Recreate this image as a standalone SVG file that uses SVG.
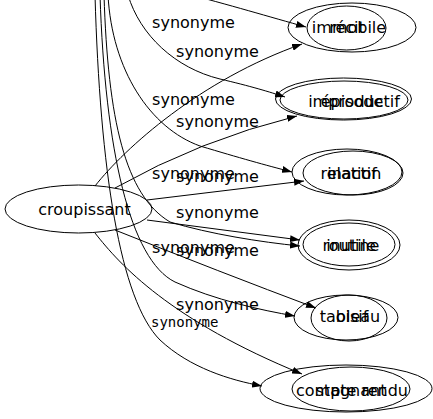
<svg xmlns="http://www.w3.org/2000/svg" width="433" height="419" viewBox="0 0 433 419">
<style>
.n ellipse{fill:none;stroke:#000;stroke-width:1}
.t{font-family:"DejaVu Sans",sans-serif;font-size:16px;fill:#000;text-anchor:middle}
.e path{fill:none;stroke:#000;stroke-width:1}
.l{font-family:"DejaVu Sans",sans-serif;font-size:16px;fill:#000;text-anchor:middle}
.m{font-family:"DejaVu Sans Mono",monospace;font-size:14px;fill:#000}
</style>
<defs>
<marker id="ah" viewBox="0 0 10 7" refX="10" refY="3.5" markerWidth="10" markerHeight="7" orient="auto" markerUnits="userSpaceOnUse"><path d="M0,0 L10,3.5 L0,7 z" fill="#000"/></marker>
</defs>
<rect width="433" height="419" fill="#fff"/>
<g class="e" id="edges">
<path marker-end="url(#ah)" d="M95,186 C125,148 200,80 302,44"/>
<path marker-end="url(#ah)" d="M115,188 Q200,140 297,116"/>
<path marker-end="url(#ah)" d="M147,200 L304,181"/>
<path marker-end="url(#ah)" d="M147,220 L300,240"/>
<path marker-end="url(#ah)" d="M115,230 Q220,272 316,308"/>
<path marker-end="url(#ah)" d="M95,233 C120,265 170,320 302,374"/>
<path marker-end="url(#ah)" d="M180,-8 C230,5 270,17 306,27"/>
<path marker-end="url(#ah)" d="M128,-5 C140,35 175,68 220,79 C250,86 270,92 285,97"/>
<path marker-end="url(#ah)" d="M108,-5 C112,70 150,128 200,146 C240,158 265,165 292,172"/>
<path marker-end="url(#ah)" d="M104,-5 C108,120 125,195 170,222 C210,234 260,242 300,246"/>
<path marker-end="url(#ah)" d="M100,-5 C105,150 130,260 175,282 C215,300 260,310 295,316"/>
<path marker-end="url(#ah)" d="M95,-5 C100,170 120,300 160,340 C190,368 230,380 262,386"/>
<text class="l" x="193.5" y="28">synonyme</text>
<text class="l" x="217.5" y="57">synonyme</text>
<text class="l" x="193.5" y="105">synonyme</text>
<text class="l" x="217.5" y="127">synonyme</text>
<text class="l" x="193.5" y="179">synonyme</text>
<text class="l" x="217.5" y="182">synonyme</text>
<text class="l" x="217.5" y="218">synonyme</text>
<text class="l" x="193.5" y="253">synonyme</text>
<text class="l" x="217.5" y="256">synonyme</text>
<text class="l" x="217.5" y="310">synonyme</text>
<text class="m" x="151" y="327">synonyme</text>
</g>
<g class="n" id="croupissant">
<ellipse cx="78.5" cy="209" rx="73.5" ry="24"/>
<text class="t" x="84.5" y="215">croupissant</text>
</g>
<g class="n" id="nodeA">
<ellipse cx="352" cy="27.5" rx="64" ry="24.5"/>
<ellipse cx="346.5" cy="28" rx="39.5" ry="22"/>
<text class="t" x="349" y="33">immobile</text>
<text class="t" x="347" y="33">récit</text>
</g>
<g class="n" id="nodeB">
<ellipse cx="343.5" cy="99" rx="68" ry="21"/>
<ellipse cx="344" cy="100" rx="64" ry="19"/>
<text class="t" x="354" y="107">improductif</text>
<text class="t" x="352" y="107">épisode</text>
</g>
<g class="n" id="nodeC">
<ellipse cx="347" cy="172" rx="55" ry="23"/>
<ellipse cx="353" cy="173" rx="50" ry="22"/>
<text class="t" x="351" y="179">relation</text>
<text class="t" x="352" y="179">inactif</text>
</g>
<g class="n" id="nodeD">
<ellipse cx="349" cy="245" rx="51" ry="25"/>
<ellipse cx="349" cy="244.5" rx="46" ry="21.5"/>
<text class="t" x="351" y="251">routine</text>
<text class="t" x="351" y="251">inutile</text>
</g>
<g class="n" id="nodeE">
<ellipse cx="346" cy="317.5" rx="52" ry="22.5"/>
<ellipse cx="349" cy="318" rx="38" ry="23"/>
<text class="t" x="350" y="322">tableau</text>
<text class="t" x="352" y="322">oisif</text>
</g>
<g class="n" id="nodeF">
<ellipse cx="346" cy="388.5" rx="86" ry="23.5"/>
<ellipse cx="351" cy="389" rx="59" ry="22"/>
<text class="t" x="352" y="396">compte rendu</text>
<text class="t" x="351" y="396">stagnant</text>
</g>
</svg>
